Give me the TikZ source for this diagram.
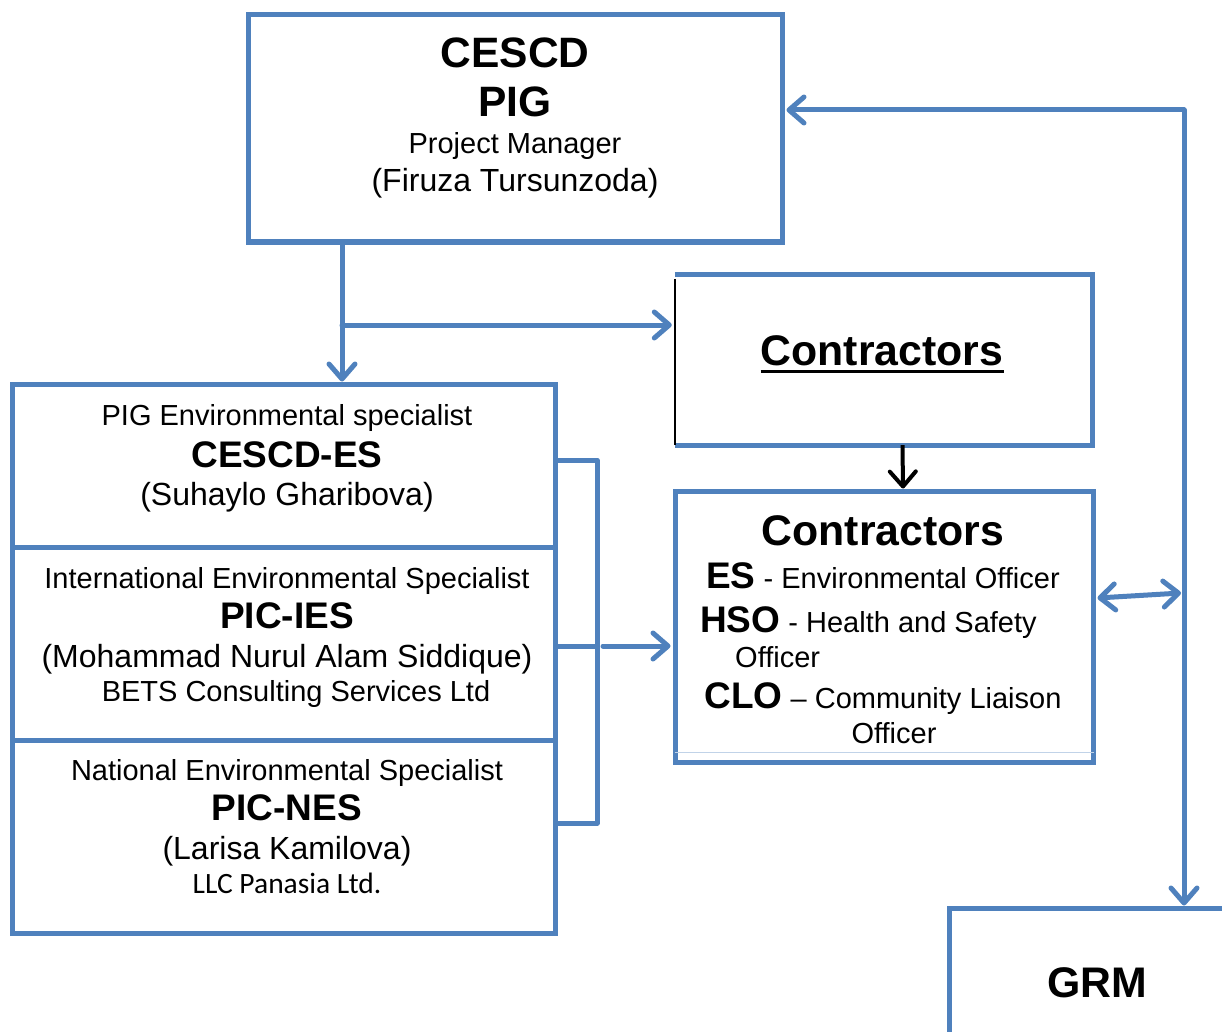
\documentclass[tikz,border=0pt]{standalone}
\usepackage{fontspec}
\setmainfont{Liberation Sans}
\newfontfamily\calib{Carlito}
\usetikzlibrary{arrows.meta}
\definecolor{bl}{HTML}{4F81BD}
\tikzset{mytip/.tip={Straight Barb[length=15pt,width=26pt,line cap=round,line join=round]}}
\begin{document}
\begin{tikzpicture}[x=1pt,y=-1pt,
  box/.style={draw=bl, line width=5pt, inner sep=0pt},
  txt/.style={inner sep=0pt, text depth=0pt, align=center},
  reg/.style={txt, text height=20.8pt, font=\fontsize{29}{35}\selectfont},
  nmtxt/.style={txt, text height=22.9pt, font=\fontsize{32}{38}\selectfont},
  bigb/.style={txt, text height=30.4pt, font=\bfseries\fontsize{42.5}{48}\selectfont},
  hugeb/.style={txt, text height=30.6pt, font=\bfseries\fontsize{42.8}{48}\selectfont},
  midb/.style={txt, text height=26.5pt, font=\bfseries\fontsize{37}{44}\selectfont},
  conn/.style={draw=bl, line width=5pt, line cap=round, line join=round},
  arr/.style={conn, -{mytip}},
  arrb/.style={conn, {mytip}-{mytip}},
  blk/.style={draw=black, line width=4pt, -{mytip}},
]
\clip (0,0) rectangle (1222,1032);
\fill[white] (0,0) rectangle (1222,1032);

% boxes
\node[box, minimum width=534pt, minimum height=227pt] (top) at (515,128.5) {};
\node[inner sep=0pt, minimum width=417pt, minimum height=170pt] (c1) at (883.5,360) {};
\draw[bl, line width=5pt, line join=miter] (c1.north west) -- (c1.north east) -- (c1.south east) -- (c1.south west);
\draw[black, line width=1.5pt] ([yshift=-4pt]c1.north west) -- (c1.south west);
\node[box, minimum width=418pt, minimum height=271pt] (c2) at (884,626.5) {};
\draw[bl!35, line width=1pt] ([xshift=2pt,yshift=12pt]c2.south west) -- ([xshift=-2pt,yshift=12pt]c2.south east);
\node[box, minimum width=543pt, minimum height=163pt] (b1) at (283.5,465.5) {};
\node[box, minimum width=543pt, minimum height=193pt] (b2) at (283.5,643.5) {};
\node[box, minimum width=543pt, minimum height=193pt] (b3) at (283.5,836.5) {};
\node[box, minimum width=296pt, minimum height=148pt] (grm) at (1097,982) {};
\node[hugeb] (grmt) at (1097,982) {GRM};

% top box text
\node[bigb] (t1) at (515,52) {CESCD};
\node[bigb] (t2) at (515,101) {PIG};
\node[reg] (t3) at (515,143) {Project Manager};
\node[nmtxt] (t4) at (515,180) {(Firuza Tursunzoda)};

% contractors 1
\node[hugeb] (ct) at (882,350) {Contractors};
\draw[line width=3pt] ([yshift=-5.5pt]ct.south west) -- ([yshift=-5.5pt]ct.south east);

% contractors 2
\node[hugeb] (ct2) at (883,530) {Contractors};
\node[reg] (es) at (883,578) {{\bfseries\fontsize{37}{44}\selectfont ES} - Environmental Officer};
\node[reg, anchor=west] (hso) at (700,622) {{\bfseries\fontsize{37}{44}\selectfont HSO} - Health and Safety};
\node[reg, anchor=west] (hso2) at (735,657) {Officer};
\node[reg] (clo) at (883,698) {{\bfseries\fontsize{37}{44}\selectfont CLO} – Community Liaison};
\node[reg] (clo2) at (894,733) {Officer};

% left boxes text
\node[reg] (l1) at (287,415) {PIG Environmental specialist};
\node[midb] (l2) at (287,454) {CESCD-ES};
\node[nmtxt] (l3) at (287,494) {(Suhaylo Gharibova)};
\node[reg] (m1) at (287,578) {International Environmental Specialist};
\node[midb] (m2) at (287,615) {PIC-IES};
\node[nmtxt] (m3) at (287,656) {(Mohammad Nurul Alam Siddique)};
\node[reg] (m4) at (296,691) {BETS Consulting Services Ltd};
\node[reg] (n1) at (287,770) {National Environmental Specialist};
\node[midb] (n2) at (287,807) {PIC-NES};
\node[nmtxt] (n3) at (287,848) {(Larisa Kamilova)};
\node[txt, text height=19pt, font=\calib\fontsize{29.5}{34}\selectfont] (n4) at (287,884) {LLC Panasia Ltd.};

% connectors
\coordinate (split) at (342,325);
\draw[conn] (top.south -| split) -- (split);
\draw[arr] (split) -- (split |- b1.north);
\draw[arr] (split) -- ([xshift=-3pt]split -| c1.west);
\draw[blk] ([xshift=19pt]c1.south) -- ([xshift=19pt]c2.north);

\coordinate (bt) at (597,460);
\coordinate (bm) at (597,646);
\coordinate (bb) at (597,823);
\draw[conn, line cap=butt] (bt -| b1.east) -- (bt) -- (bb) -- (bb -| b3.east);
\draw[conn, line cap=butt] (bm -| b2.east) -- (bm);
\draw[arr] ([xshift=6pt]bm) -- ([xshift=-2pt]bm -| c2.west);

\coordinate (rt) at (1184,110);
\coordinate (da) at (1181,593);
\draw[arr] (rt) -- ([xshift=2pt]rt -| top.east);
\draw[arr] (rt) -- (rt |- grm.north);
\draw[arrb] ([xshift=2pt,yshift=28.5pt]c2.east) -- (da);
\end{tikzpicture}
\end{document}
